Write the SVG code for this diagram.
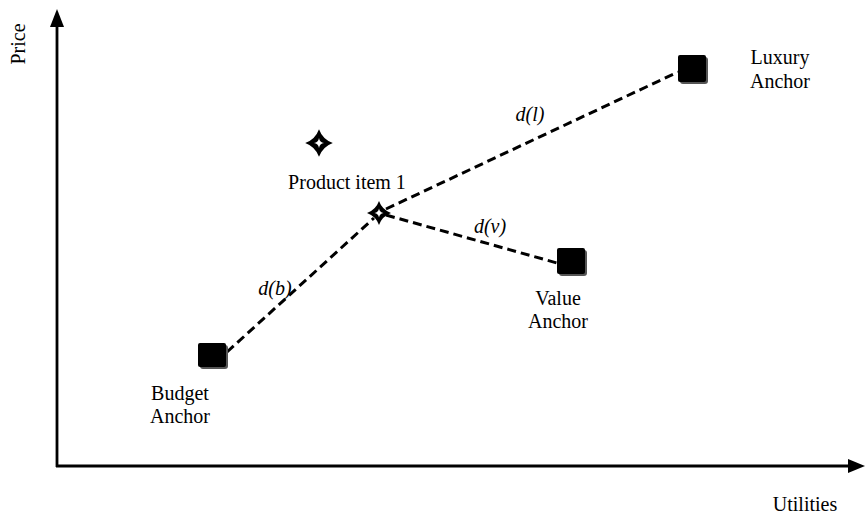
<svg xmlns="http://www.w3.org/2000/svg" width="865" height="517" viewBox="0 0 865 517">
<defs>
<style>
text{font-family:"Liberation Serif","Times New Roman",serif;font-size:20px;fill:#000}
.it{font-style:italic}
.dash{stroke:#000;stroke-width:3;stroke-dasharray:9 5;fill:none}
.axis{stroke:#000;stroke-width:2.8;fill:none}
.sq{fill:#000}
.sh{fill:#555}
</style>
<path id="star" d="M0,-12 Q3.2,-3.2 12,0 Q3.2,3.2 0,12 Q-3.2,3.2 -12,0 Q-3.2,-3.2 0,-12 Z"/>
<path id="starIn" d="M0,-5 Q0.7,-0.7 5,0 Q0.7,0.7 0,5 Q-0.7,0.7 -5,0 Q-0.7,-0.7 0,-5 Z" fill="#fff"/>
</defs>
<rect width="865" height="517" fill="#fff"/>
<g id="axes">
<line class="axis" x1="57" y1="467" x2="57" y2="24"/>
<polygon points="57,9 50,27 64,27" fill="#000"/>
<line class="axis" x1="56" y1="466" x2="850" y2="466"/>
<polygon points="865,466 848,459 848,473" fill="#000"/>
<text transform="translate(25,44) rotate(-90)" text-anchor="middle">Price</text>
<text x="805" y="511" text-anchor="middle">Utilities</text>
</g>
<g id="connectors">
<line class="dash" x1="227" y1="352" x2="374" y2="218"/>
<line class="dash" x1="386" y1="209" x2="678" y2="72"/>
<line class="dash" x1="386" y1="215" x2="557" y2="263"/>
<text class="it" x="275" y="295" text-anchor="middle">d(b)</text>
<text class="it" x="530" y="121" text-anchor="middle">d(l)</text>
<text class="it" x="490" y="233" text-anchor="middle">d(v)</text>
</g>
<g id="budget">
<rect class="sh" x="200" y="345" width="28" height="24" rx="3"/>
<rect class="sq" x="198" y="343" width="28" height="24" rx="2"/>
<text x="180" y="400" text-anchor="middle">Budget</text>
<text x="180" y="423" text-anchor="middle">Anchor</text>
</g>
<g id="luxury">
<rect class="sh" x="680" y="57" width="28" height="27" rx="3"/>
<rect class="sq" x="678" y="55" width="28" height="27" rx="2"/>
<text x="780" y="64" text-anchor="middle">Luxury</text>
<text x="780" y="88" text-anchor="middle">Anchor</text>
</g>
<g id="value">
<rect class="sh" x="559" y="250" width="28" height="26" rx="3"/>
<rect class="sq" x="557" y="248" width="28" height="26" rx="2"/>
<text x="558" y="305" text-anchor="middle">Value</text>
<text x="558" y="328" text-anchor="middle">Anchor</text>
</g>
<g id="product-star">
<use href="#star" transform="translate(319,143) scale(1.15)"/>
<use href="#starIn" transform="translate(319,143)"/>
</g>
<g id="product-item-1">
<text x="347" y="189" text-anchor="middle">Product item 1</text>
<use href="#star" transform="translate(379,213)"/>
<use href="#starIn" transform="translate(379,213) scale(0.9)"/>
</g>
</svg>
